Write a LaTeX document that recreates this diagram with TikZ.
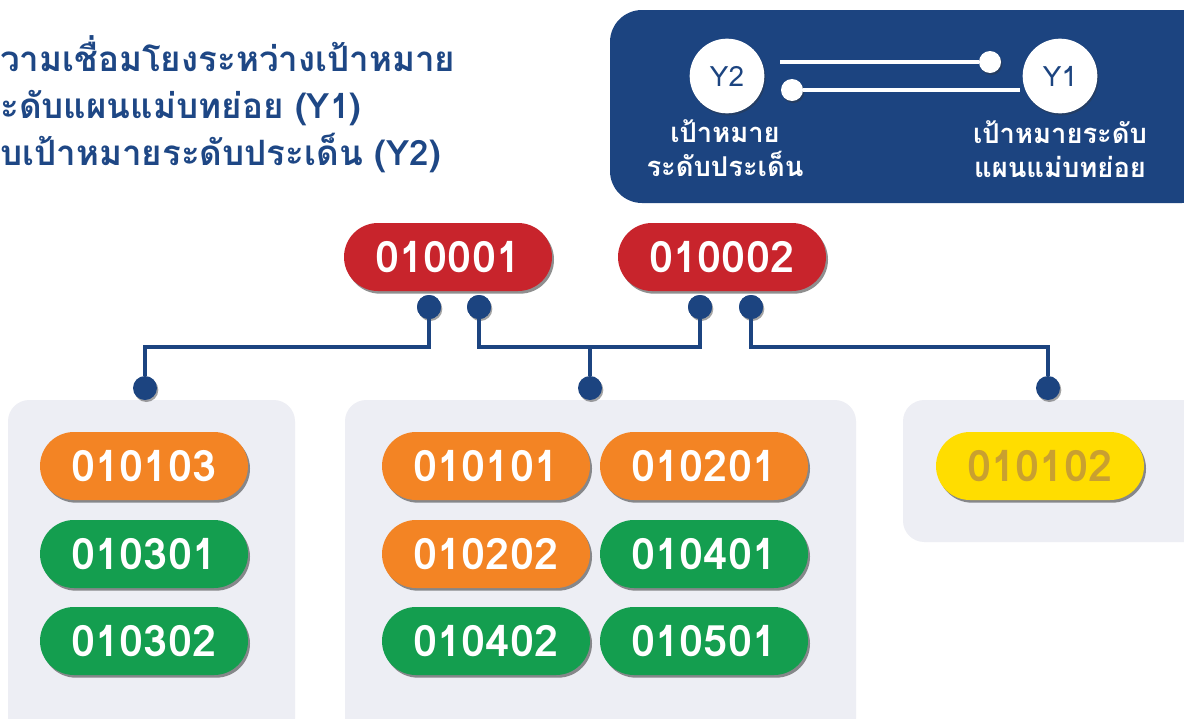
\documentclass[tikz,border=0pt]{standalone}
\usepackage{fontspec}
\newfontfamily\thai[Script=Thai]{Loma}
\usetikzlibrary{shadows,shapes.misc}
\definecolor{navy}{HTML}{1C4480}
\definecolor{titleblue}{HTML}{1E4785}
\definecolor{pillred}{HTML}{C8242C}
\definecolor{pillorange}{HTML}{F38424}
\definecolor{pillgreen}{HTML}{149E4F}
\definecolor{pillyellow}{HTML}{FFDD00}
\definecolor{goldtext}{HTML}{C9A030}
\definecolor{panel}{HTML}{EDEEF4}
\tikzset{
  pill/.style={rounded rectangle, minimum width=156pt, minimum height=51pt, inner sep=0pt,
    text=white, font=\thai\bfseries\fontsize{32.5}{32.5}\selectfont,
    drop shadow={shadow xshift=1.5pt, shadow yshift=-2pt, opacity=0.55, fill=black!80}},
  redpill/.style={pill, fill=pillred},
  orangepill/.style={pill, fill=pillorange},
  greenpill/.style={pill, fill=pillgreen},
  yellowpill/.style={pill, fill=pillyellow, text=goldtext},
  dot/.style={circle, fill=navy, minimum size=18pt, inner sep=0pt,
    drop shadow={shadow xshift=1pt, shadow yshift=-1.5pt, opacity=0.45, fill=black!80}},
  wdot/.style={circle, fill=white, minimum size=16.5pt, inner sep=0pt,
    drop shadow={shadow xshift=1pt, shadow yshift=-1.5pt, opacity=0.4, fill=black!80}},
  conn/.style={draw=navy, line width=3pt},
  wconn/.style={draw=white, line width=3pt},
  ycirc/.style={circle, fill=white, minimum size=56pt, inner sep=0pt, text=navy,
    font=\thai\fontsize{21}{21}\selectfont,
    drop shadow={shadow xshift=1pt, shadow yshift=-1.5pt, opacity=0.35, fill=black!80}},
  legtext/.style={text=white, align=center, font=\thai\bfseries\fontsize{20.5}{25}\selectfont},
  panelbox/.style={fill=panel, rounded corners=16pt}
}
\begin{document}
\begin{tikzpicture}[x=0.75pt,y=-0.75pt]
\useasboundingbox (0,0) rectangle (1184,718);
\clip (0,0) rectangle (1184,718);
\fill[white] (0,0) rectangle (1184,718);

% title
\node[anchor=west, inner sep=0pt, text=titleblue, align=left,
  font=\thai\bfseries\fontsize{26.2}{35.25}\selectfont] (title) at (0,104)
  {วามเชื่อมโยงระหว่างเป้าหมาย\\ะดับแผนแม่บทย่อย (Y1)\\บเป้าหมายระดับประเด็น (Y2)};

% legend
\fill[navy, rounded corners=24pt] (610,10) rectangle (1214,203);
\node[ycirc] (y2) at (727,76) {Y2};
\node[ycirc] (y1) at (1060,76) {Y1};
\coordinate (ls1) at (780,62);
\coordinate (ls2) at (1020,90);
\node[wdot] (ld1) at (990,62) {};
\node[wdot] (ld2) at (792,90) {};
\draw[wconn] (ls1) -- (ld1);
\draw[wconn] (ld2) -- (ls2);
\node[legtext] (l2) at (725,148) {เป้าหมาย\\ระดับประเด็น};
\node[legtext] (l1) at (1060,149) {เป้าหมายระดับ\\แผนแม่บทย่อย};

% panels
\fill[panelbox] (8,400) rectangle (295,750);
\fill[panelbox] (345,400) rectangle (856,750);
\fill[panelbox] (903,400) rectangle (1214,542);

% top pills
\node[redpill] (p1) at (448,257) {010001};
\node[redpill] (p2) at (722,257) {010002};

% dots
\node[dot] (d1) at (429,307) {};
\node[dot] (d2) at (479,307) {};
\node[dot] (d3) at (700,307) {};
\node[dot] (d4) at (751,307) {};
\node[dot] (e1) at (145,388) {};
\node[dot] (e2) at (590,388) {};
\node[dot] (e3) at (1048,388) {};
\coordinate (bus) at (0,347);
\coordinate (mid) at (590,347);

\draw[conn] (d1) -- (d1 |- bus) -| (e1);
\draw[conn] (d2) -- (d2 |- bus) -| (d3);
\draw[conn] (mid) -- (e2);
\draw[conn] (d4) -- (d4 |- bus) -| (e3);
\fill[navy] (d1) circle (9pt);
\fill[navy] (d2) circle (9pt);
\fill[navy] (d3) circle (9pt);
\fill[navy] (d4) circle (9pt);

% left panel
\node[orangepill] (a1) at (144,466) {010103};
\node[greenpill] (a2) at (144,554) {010301};
\node[greenpill] (a3) at (144,641) {010302};

% middle panel
\node[orangepill] (b1) at (486,466) {010101};
\node[orangepill] (b2) at (704,466) {010201};
\node[orangepill] (b3) at (486,554) {010202};
\node[greenpill] (b4) at (704,554) {010401};
\node[greenpill] (b5) at (486,641) {010402};
\node[greenpill] (b6) at (704,641) {010501};

% right panel
\node[yellowpill] (c1) at (1040,466) {010102};
\end{tikzpicture}
\end{document}
